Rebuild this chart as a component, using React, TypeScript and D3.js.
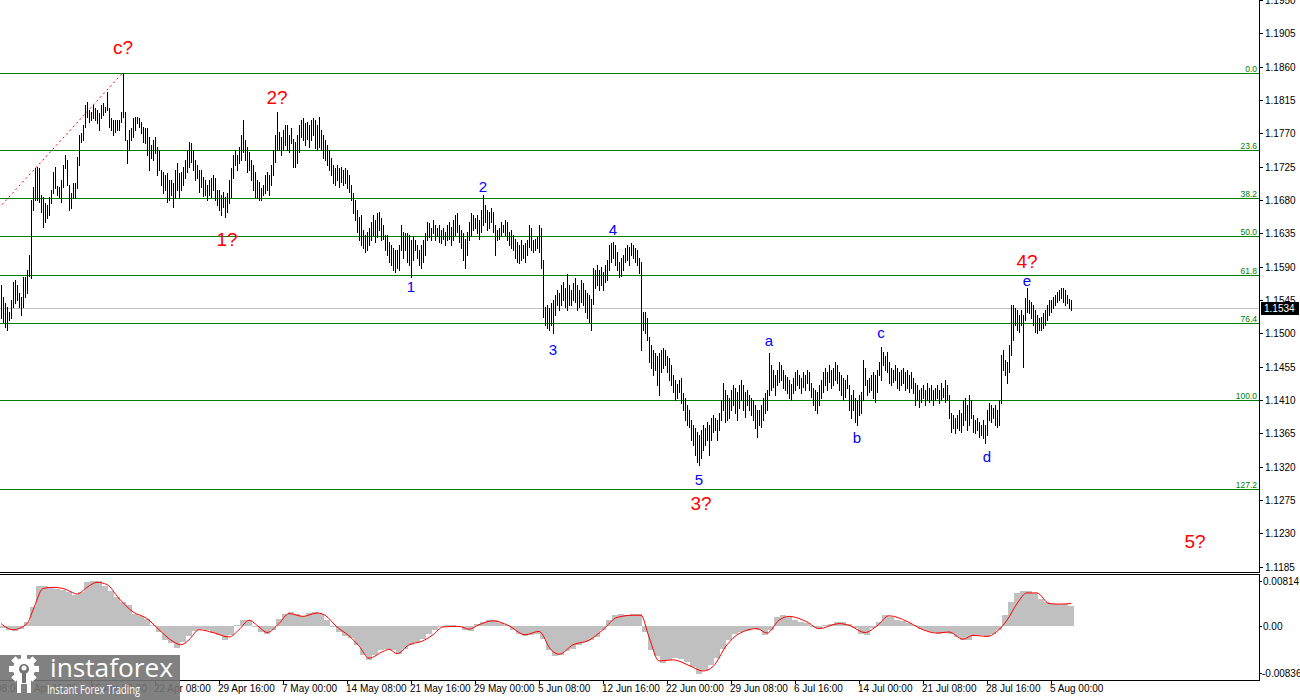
import React from "react";
import * as d3 from "d3";

// ---- price bars (H4), high / low per bar ----
const highs = [
  1.1565,1.1549,1.1541,1.1536,1.1529,1.1545,1.1569,1.1572,1.1565,1.1554,1.1549,1.1576,1.1576,1.1585,1.1606,
  1.1680,1.1697,1.1723,1.1725,1.1723,1.1687,1.1684,1.1676,1.1673,1.1684,1.1693,1.1718,1.1725,1.1699,1.1697,
  1.1707,1.1727,1.1741,1.1734,1.1700,1.1689,1.1703,1.1703,1.1738,1.1768,1.1770,1.1781,1.1808,1.1812,1.1801,
  1.1799,1.1808,1.1804,1.1801,1.1797,1.1808,1.1811,1.1805,1.1826,1.1804,1.1791,1.1788,1.1788,1.1788,1.1788,
  1.1799,1.1852,1.1799,1.1761,1.1774,1.1777,1.1791,1.1792,1.1792,1.1791,1.1785,1.1778,1.1777,1.1777,1.1765,
  1.1754,1.1761,1.1765,1.1751,1.1747,1.1720,1.1718,1.1714,1.1716,1.1707,1.1707,1.1703,1.1720,1.1730,1.1716,
  1.1718,1.1725,1.1734,1.1747,1.1758,1.1757,1.1747,1.1734,1.1727,1.1720,1.1720,1.1711,1.1707,1.1700,1.1707,
  1.1710,1.1714,1.1710,1.1693,1.1693,1.1687,1.1691,1.1684,1.1689,1.1707,1.1723,1.1741,1.1747,1.1741,1.1751,
  1.1768,1.1788,1.1761,1.1751,1.1745,1.1734,1.1727,1.1718,1.1707,1.1704,1.1696,1.1700,1.1714,1.1718,1.1714,
  1.1727,1.1747,1.1768,1.1799,1.1772,1.1765,1.1774,1.1781,1.1781,1.1768,1.1777,1.1763,1.1758,1.1768,1.1781,
  1.1788,1.1791,1.1784,1.1785,1.1781,1.1788,1.1791,1.1788,1.1781,1.1792,1.1774,1.1768,1.1761,1.1754,1.1747,
  1.1737,1.1727,1.1723,1.1727,1.1723,1.1725,1.1720,1.1723,1.1720,1.1714,1.1700,1.1689,1.1680,1.1666,1.1657,
  1.1660,1.1639,1.1633,1.1637,1.1642,1.1650,1.1660,1.1653,1.1662,1.1664,1.1656,1.1646,1.1633,1.1633,1.1623,
  1.1619,1.1615,1.1612,1.1612,1.1619,1.1646,1.1637,1.1635,1.1635,1.1633,1.1626,1.1630,1.1626,1.1619,1.1612,
  1.1619,1.1626,1.1635,1.1650,1.1649,1.1642,1.1653,1.1646,1.1642,1.1646,1.1639,1.1642,1.1637,1.1646,1.1650,
  1.1644,1.1653,1.1660,1.1662,1.1646,1.1639,1.1635,1.1628,1.1637,1.1650,1.1662,1.1660,1.1656,1.1660,1.1653,
  1.1666,1.1687,1.1673,1.1666,1.1664,1.1669,1.1664,1.1646,1.1639,1.1642,1.1650,1.1646,1.1653,1.1650,1.1637,
  1.1639,1.1633,1.1628,1.1623,1.1619,1.1626,1.1619,1.1622,1.1626,1.1646,1.1642,1.1626,1.1628,1.1630,1.1646,
  1.1642,1.1599,1.1536,1.1538,1.1534,1.1541,1.1545,1.1552,1.1558,1.1554,1.1565,1.1569,1.1561,1.1580,1.1565,
  1.1558,1.1568,1.1575,1.1565,1.1558,1.1572,1.1568,1.1558,1.1554,1.1552,1.1547,1.1588,1.1585,1.1592,1.1585,
  1.1590,1.1583,1.1592,1.1599,1.1619,1.1622,1.1623,1.1619,1.1610,1.1596,1.1602,1.1606,1.1615,1.1619,1.1617,
  1.1622,1.1619,1.1615,1.1612,1.1602,1.1596,1.1529,1.1529,1.1521,1.1495,1.1484,1.1477,1.1474,1.1470,1.1474,
  1.1477,1.1480,1.1477,1.1470,1.1467,1.1457,1.1444,1.1437,1.1432,1.1437,1.1440,1.1419,1.1413,1.1403,1.1396,
  1.1383,1.1376,1.1372,1.1367,1.1363,1.1369,1.1376,1.1372,1.1380,1.1376,1.1386,1.1390,1.1386,1.1383,1.1393,
  1.1410,1.1433,1.1423,1.1417,1.1413,1.1423,1.1430,1.1426,1.1421,1.1430,1.1437,1.1430,1.1421,1.1423,1.1417,
  1.1413,1.1410,1.1403,1.1396,1.1396,1.1403,1.1413,1.1419,1.1423,1.1473,1.1457,1.1450,1.1444,1.1450,1.1461,
  1.1457,1.1450,1.1444,1.1441,1.1437,1.1432,1.1440,1.1448,1.1450,1.1444,1.1440,1.1448,1.1444,1.1450,1.1448,
  1.1433,1.1426,1.1423,1.1421,1.1430,1.1437,1.1448,1.1453,1.1448,1.1457,1.1450,1.1453,1.1461,1.1457,1.1448,
  1.1444,1.1440,1.1437,1.1444,1.1430,1.1417,1.1423,1.1413,1.1410,1.1417,1.1421,1.1464,1.1453,1.1437,1.1440,
  1.1444,1.1448,1.1444,1.1450,1.1461,1.1482,1.1475,1.1470,1.1475,1.1461,1.1453,1.1450,1.1457,1.1453,1.1448,
  1.1450,1.1453,1.1448,1.1450,1.1444,1.1448,1.1440,1.1433,1.1430,1.1423,1.1426,1.1430,1.1423,1.1433,1.1426,
  1.1430,1.1423,1.1426,1.1430,1.1423,1.1433,1.1426,1.1437,1.1430,1.1417,1.1392,1.1390,1.1386,1.1390,1.1396,
  1.1392,1.1410,1.1413,1.1403,1.1417,1.1410,1.1390,1.1383,1.1386,1.1380,1.1376,1.1383,1.1376,1.1396,1.1406,
  1.1403,1.1399,1.1403,1.1396,1.1410,1.1471,1.1477,1.1464,1.1461,1.1484,1.1538,1.1538,1.1534,1.1531,1.1525,
  1.1531,1.1525,1.1548,1.1561,1.1545,1.1542,1.1538,1.1531,1.1525,1.1521,1.1522,1.1527,1.1531,1.1538,1.1545,
  1.1545,1.1549,1.1552,1.1556,1.1558,1.1561,1.1561,1.1558,1.1552,1.1547,1.1545,
];

const lows = [
  1.1521,1.1515,1.1508,1.1504,1.1518,1.1521,1.1536,1.1541,1.1545,1.1536,1.1525,1.1536,1.1549,1.1554,1.1578,
  1.1575,1.1666,1.1680,1.1680,1.1677,1.1664,1.1643,1.1650,1.1656,1.1660,1.1676,1.1689,1.1696,1.1687,1.1684,
  1.1677,1.1697,1.1723,1.1700,1.1666,1.1669,1.1683,1.1683,1.1696,1.1727,1.1758,1.1761,1.1778,1.1792,1.1785,
  1.1788,1.1791,1.1788,1.1784,1.1774,1.1791,1.1795,1.1799,1.1801,1.1778,1.1774,1.1768,1.1772,1.1774,1.1774,
  1.1785,1.1792,1.1761,1.1730,1.1747,1.1761,1.1765,1.1774,1.1784,1.1778,1.1770,1.1758,1.1757,1.1741,1.1720,
  1.1737,1.1734,1.1743,1.1714,1.1720,1.1700,1.1689,1.1693,1.1677,1.1680,1.1687,1.1670,1.1683,1.1693,1.1683,
  1.1693,1.1700,1.1710,1.1718,1.1725,1.1731,1.1720,1.1707,1.1710,1.1691,1.1697,1.1685,1.1687,1.1680,1.1687,
  1.1684,1.1693,1.1680,1.1673,1.1666,1.1660,1.1670,1.1657,1.1664,1.1676,1.1684,1.1710,1.1727,1.1720,1.1730,
  1.1734,1.1745,1.1734,1.1718,1.1720,1.1707,1.1693,1.1684,1.1683,1.1680,1.1680,1.1687,1.1689,1.1693,1.1687,
  1.1700,1.1714,1.1731,1.1747,1.1747,1.1741,1.1747,1.1754,1.1747,1.1745,1.1757,1.1725,1.1725,1.1730,1.1745,
  1.1765,1.1761,1.1754,1.1763,1.1751,1.1761,1.1768,1.1750,1.1747,1.1751,1.1747,1.1737,1.1734,1.1727,1.1720,
  1.1714,1.1703,1.1700,1.1707,1.1697,1.1704,1.1700,1.1703,1.1696,1.1691,1.1680,1.1662,1.1653,1.1637,1.1626,
  1.1619,1.1615,1.1610,1.1612,1.1619,1.1626,1.1633,1.1623,1.1630,1.1639,1.1626,1.1628,1.1612,1.1606,1.1596,
  1.1592,1.1585,1.1583,1.1588,1.1585,1.1612,1.1602,1.1612,1.1596,1.1592,1.1576,1.1599,1.1612,1.1602,1.1592,
  1.1588,1.1596,1.1606,1.1626,1.1630,1.1626,1.1635,1.1626,1.1631,1.1623,1.1622,1.1628,1.1619,1.1626,1.1628,
  1.1619,1.1626,1.1633,1.1637,1.1623,1.1615,1.1599,1.1588,1.1606,1.1626,1.1633,1.1639,1.1642,1.1635,1.1628,
  1.1637,1.1646,1.1650,1.1639,1.1642,1.1650,1.1637,1.1606,1.1626,1.1628,1.1633,1.1637,1.1633,1.1626,1.1619,
  1.1615,1.1612,1.1602,1.1596,1.1595,1.1599,1.1602,1.1596,1.1606,1.1616,1.1612,1.1610,1.1612,1.1615,1.1610,
  1.1588,1.1522,1.1511,1.1507,1.1504,1.1511,1.1500,1.1525,1.1538,1.1531,1.1538,1.1545,1.1536,1.1531,1.1538,
  1.1538,1.1545,1.1542,1.1531,1.1536,1.1542,1.1538,1.1529,1.1521,1.1515,1.1504,1.1540,1.1561,1.1565,1.1558,
  1.1565,1.1558,1.1569,1.1572,1.1585,1.1596,1.1602,1.1592,1.1585,1.1576,1.1578,1.1585,1.1596,1.1599,1.1592,
  1.1606,1.1602,1.1596,1.1592,1.1581,1.1477,1.1504,1.1500,1.1491,1.1461,1.1453,1.1444,1.1450,1.1430,1.1417,
  1.1448,1.1453,1.1457,1.1448,1.1437,1.1430,1.1421,1.1410,1.1413,1.1421,1.1406,1.1396,1.1383,1.1376,1.1373,
  1.1356,1.1349,1.1336,1.1326,1.1322,1.1332,1.1342,1.1349,1.1356,1.1336,1.1356,1.1367,1.1369,1.1356,1.1369,
  1.1383,1.1396,1.1380,1.1383,1.1386,1.1396,1.1403,1.1393,1.1383,1.1399,1.1410,1.1396,1.1387,1.1403,1.1396,
  1.1390,1.1383,1.1372,1.1360,1.1376,1.1373,1.1383,1.1392,1.1396,1.1417,1.1423,1.1428,1.1417,1.1430,1.1434,
  1.1437,1.1426,1.1423,1.1419,1.1413,1.1410,1.1419,1.1423,1.1430,1.1426,1.1419,1.1428,1.1423,1.1433,1.1423,
  1.1414,1.1403,1.1396,1.1392,1.1403,1.1413,1.1421,1.1430,1.1423,1.1434,1.1426,1.1430,1.1437,1.1433,1.1423,
  1.1417,1.1410,1.1414,1.1426,1.1396,1.1386,1.1396,1.1380,1.1376,1.1390,1.1392,1.1410,1.1430,1.1417,1.1421,
  1.1423,1.1413,1.1407,1.1421,1.1444,1.1437,1.1457,1.1450,1.1448,1.1433,1.1430,1.1434,1.1437,1.1426,1.1423,
  1.1430,1.1433,1.1423,1.1426,1.1421,1.1426,1.1419,1.1403,1.1410,1.1401,1.1407,1.1413,1.1403,1.1410,1.1407,
  1.1410,1.1403,1.1410,1.1413,1.1406,1.1410,1.1414,1.1407,1.1410,1.1386,1.1367,1.1372,1.1365,1.1372,1.1369,
  1.1367,1.1376,1.1383,1.1369,1.1376,1.1386,1.1367,1.1365,1.1369,1.1360,1.1363,1.1359,1.1352,1.1363,1.1383,
  1.1380,1.1386,1.1376,1.1373,1.1376,1.1406,1.1450,1.1444,1.1433,1.1448,1.1471,1.1491,1.1511,1.1504,1.1502,
  1.1511,1.1455,1.1518,1.1529,1.1527,1.1521,1.1511,1.1502,1.1500,1.1504,1.1504,1.1507,1.1511,1.1518,1.1525,
  1.1529,1.1534,1.1538,1.1542,1.1545,1.1548,1.1542,1.1538,1.1541,1.1534,1.1531,
];

const lastPrice = 1.1534;

// price axis ticks
const priceTicks = [
  1.1185, 1.123, 1.1275, 1.132, 1.1365, 1.141, 1.1455, 1.15, 1.1545,
  1.159, 1.1635, 1.168, 1.1725, 1.177, 1.1815, 1.186, 1.1905, 1.195,
];

// time axis (bar index of each label)
const timeLabels = [
  "31 Mar 08:00", "7 Apr 16:00", "15 Apr 00:00", "22 Apr 08:00", "29 Apr 16:00",
  "7 May 00:00", "14 May 08:00", "21 May 16:00", "29 May 00:00", "5 Jun 08:00",
  "12 Jun 16:00", "22 Jun 00:00", "29 Jun 08:00", "6 Jul 16:00", "14 Jul 00:00",
  "21 Jul 08:00", "28 Jul 16:00", "5 Aug 00:00",
];
const timeIdx = [-19, 13, 45, 77, 109, 141, 173, 205, 237, 269, 301, 333, 365, 397, 429, 461, 493, 525];

// Fibonacci retracement
const fibLevels = [0, 23.6, 38.2, 50, 61.8, 76.4, 100, 127.2];
const fibNames = ["0.0", "23.6", "38.2", "50.0", "61.8", "76.4", "100.0", "127.2"];
const fibAnchorIdx = [-89, 61];
const fibAnchorPrice = [1.141, 1.1852];

// MACD histogram, one value every 3 bars
const macdHist = [
  -0.0003,-0.0006,-0.0008,-0.0004,0.0008,0.0035,0.0072,0.0073,0.0070,0.0067,
  0.0065,0.0061,0.0056,0.0061,0.0079,0.0082,0.0081,0.0073,0.0064,0.0053,
  0.0044,0.0038,0.0023,0.0018,0.0014,0.0002,-0.0010,-0.0024,-0.0030,-0.0038,
  -0.0028,-0.0017,-0.0008,-0.0004,-0.0007,-0.0011,-0.0015,-0.0024,-0.0015,0.0002,
  0.0012,0.0011,-0.0001,-0.0010,-0.0014,-0.0007,0.0014,0.0023,0.0026,0.0023,
  0.0018,0.0024,0.0026,0.0023,0.0011,-0.0001,-0.0010,-0.0017,-0.0020,-0.0033,
  -0.0051,-0.0060,-0.0051,-0.0042,-0.0041,-0.0043,-0.0049,-0.0040,-0.0033,-0.0028,
  -0.0022,-0.0014,-0.0007,-0.0001,0.0002,0.0002,0.0000,-0.0006,-0.0008,0.0005,
  0.0008,0.0011,0.0011,0.0006,0.0002,-0.0006,-0.0014,-0.0017,-0.0016,-0.0013,
  -0.0022,-0.0042,-0.0054,-0.0051,-0.0045,-0.0041,-0.0034,-0.0028,-0.0025,-0.0019,
  -0.0006,0.0011,0.0020,0.0022,0.0020,0.0022,0.0023,-0.0010,-0.0042,-0.0054,
  -0.0065,-0.0060,-0.0057,-0.0059,-0.0063,-0.0073,-0.0085,-0.0079,-0.0069,-0.0056,
  -0.0040,-0.0024,-0.0014,-0.0010,-0.0008,-0.0004,-0.0006,-0.0015,-0.0006,0.0016,
  0.0020,0.0017,0.0011,0.0008,0.0006,-0.0001,-0.0004,0.0002,0.0005,0.0008,
  0.0008,0.0004,-0.0002,-0.0013,-0.0016,-0.0002,0.0008,0.0020,0.0017,0.0012,
  0.0010,0.0006,0.0002,-0.0004,-0.0008,-0.0010,-0.0013,-0.0012,-0.0014,-0.0019,
  -0.0024,-0.0025,-0.0018,-0.0016,-0.0019,-0.0013,-0.0006,0.0020,0.0044,0.0059,
  0.0064,0.0064,0.0059,0.0050,0.0044,0.0041,0.0040,0.0040,0.0037,
];

// MACD signal line (bar index, value)
const signalIdx = [
  0,6,13,16,21,26,31,35,38,43,48,53,59,66,73,79,86,90,94,99,106,114,119,124,129,133,
  139,144,151,158,162,168,174,179,184,191,194,198,204,211,216,221,229,234,239,246,254,
  262,269,275,279,286,294,301,308,316,320,324,329,336,344,351,356,363,369,378,383,389,
  394,403,409,419,424,432,438,444,453,461,468,474,481,486,493,498,503,508,513,518,524,529,535,
];
const signalVal = [
  0.0005,-0.0006,0.0005,0.0029,0.0068,0.0070,0.0068,0.0062,0.0058,0.0070,0.0079,0.0075,
  0.0050,0.0026,0.0014,-0.0006,-0.0027,-0.0033,-0.0024,-0.0006,-0.0011,-0.0019,-0.0006,
  0.0011,-0.0001,-0.0011,0.0005,0.0023,0.0018,0.0024,0.0020,-0.0001,-0.0017,-0.0035,
  -0.0057,-0.0045,-0.0041,-0.0049,-0.0033,-0.0026,-0.0015,-0.0001,0.0000,-0.0005,0.0003,
  0.0010,0.0001,-0.0015,-0.0009,-0.0042,-0.0050,-0.0033,-0.0025,-0.0006,0.0016,0.0020,
  0.0020,-0.0019,-0.0062,-0.0060,-0.0070,-0.0080,-0.0072,-0.0033,-0.0013,-0.0004,-0.0012,
  0.0011,0.0018,0.0008,-0.0004,0.0005,0.0002,-0.0011,0.0001,0.0019,0.0009,-0.0006,
  -0.0012,-0.0010,-0.0023,-0.0016,-0.0018,-0.0009,0.0011,0.0041,0.0060,0.0060,0.0041,0.0040,0.0041,
];
const macdTicks = [0.00814, 0, -0.00836];
const macdTickLabels = ["0.00814", "0.00", "-0.00836"];

// wave labels
const redText = ["c?", "2?", "1?", "3?", "4?", "5?"];
const redIdx = [61, 138, 113, 350, 513, 597];
const redPrice = [1.1887, 1.1819, 1.1627, 1.1271, 1.1598, 1.122];
const blueText = ["1", "2", "3", "4", "5", "a", "b", "c", "d", "e"];
const blueIdx = [205, 241, 276, 306, 349, 384, 428, 440, 493, 513];
const bluePrice = [1.1563, 1.1698, 1.1478, 1.164, 1.1303, 1.1488, 1.1359, 1.1499, 1.1333, 1.1569];

const FONT = "'Liberation Sans', Arial, sans-serif";

export default function App() {
  const W = 1300;
  const H = 700;
  const RIGHT = 1259;
  const MAIN_BOTTOM = 572;
  const SUB_TOP = 574;
  const SUB_BOTTOM = 680;

  const n = highs.length;
  const x = d3.scaleLinear().domain([0, 535]).range([1, 1071]);
  const y = d3.scaleLinear().domain([1.1185, 1.195]).range([566.7, 0]);
  const ym = d3.scaleLinear().domain([-0.00836, 0.00814]).range([673, 581]);
  const step = x(1) - x(0);

  const fibHigh = fibAnchorPrice[1];
  const fibLow = fibAnchorPrice[0];
  const fibPrices = fibLevels.map((l) => fibHigh - (l / 100) * (fibHigh - fibLow));

  const signalPath =
    d3
      .line<number>()
      .x((_, i) => x(signalIdx[i]))
      .y((d) => ym(d))
      .curve(d3.curveMonotoneX)(signalVal) || "";

  const barsPath = d3.range(n).map((i) => {
    const bx = Math.round(x(i)) + 0.5;
    return `M${bx},${Math.round(y(highs[i]))}V${Math.round(y(lows[i])) + 1}`;
  }).join("");

  const lowerCase = (t: string) => ["a", "c", "e"].includes(t);

  // gear teeth
  const gearCx = 24;
  const gearCy = 669;
  const teeth = d3.range(8).map((k) => (k * 360) / 8);

  return (
    <svg
      width={W}
      height={H}
      style={{ position: "absolute", left: 0, top: 0, display: "block", background: "#fff" }}
      fontFamily={FONT}
    >
      <defs>
        <clipPath id="mainClip">
          <rect x={0} y={0} width={RIGHT} height={MAIN_BOTTOM} />
        </clipPath>
        <clipPath id="subClip">
          <rect x={0} y={SUB_TOP} width={RIGHT} height={SUB_BOTTOM - SUB_TOP} />
        </clipPath>
      </defs>
      <rect x={0} y={0} width={W} height={H} fill="#ffffff" />

      {/* main panel */}
      <g clipPath="url(#mainClip)">
        {/* fib levels */}
        {fibPrices.map((p, i) => (
          <line
            key={"fib" + i}
            x1={0}
            x2={RIGHT}
            y1={Math.round(y(p)) + 0.5}
            y2={Math.round(y(p)) + 0.5}
            stroke="#008000"
            strokeWidth={1}
            shapeRendering="crispEdges"
          />
        ))}
        {fibPrices.map((p, i) => (
          <text
            key={"fibt" + i}
            x={RIGHT - 2}
            y={Math.round(y(p)) - 1.5}
            fontSize={8.5}
            fill="#008000"
            textAnchor="end"
          >
            {fibNames[i]}
          </text>
        ))}
        {/* current price line */}
        <line
          x1={0}
          x2={RIGHT}
          y1={Math.round(y(lastPrice)) + 0.5}
          y2={Math.round(y(lastPrice)) + 0.5}
          stroke="#c0c0c0"
          strokeWidth={1}
          shapeRendering="crispEdges"
        />
        {/* fib trend line */}
        <line
          x1={x(fibAnchorIdx[0])}
          y1={y(fibAnchorPrice[0])}
          x2={x(fibAnchorIdx[1])}
          y2={y(fibAnchorPrice[1])}
          stroke="#ff0000"
          strokeWidth={1}
          strokeDasharray="2,3"
        />
        {/* bars */}
        <path d={barsPath} stroke="#000" strokeWidth={1} fill="none" shapeRendering="crispEdges" />

        {/* wave labels */}
        {redText.map((t, i) => (
          <text
            key={"r" + i}
            x={x(redIdx[i])}
            y={y(redPrice[i])}
            dy="0.36em"
            textAnchor="middle"
            fontSize={19}
            fill="#ff0000"
            fontFamily="'Liberation Sans', Arial, sans-serif"
          >
            {t}
          </text>
        ))}
        {blueText.map((t, i) => (
          <text
            key={"b" + i}
            x={x(blueIdx[i])}
            y={y(bluePrice[i])}
            dy={lowerCase(t) ? "0.27em" : "0.36em"}
            textAnchor="middle"
            fontSize={15}
            fill="#0000ff"
          >
            {t}
          </text>
        ))}
      </g>

      {/* MACD panel */}
      <g clipPath="url(#subClip)">
        {macdHist.map((v, k) => {
          const x0 = x(k * 3) - 1;
          const y0 = ym(0);
          const y1 = ym(v);
          return (
            <rect
              key={"h" + k}
              x={x0}
              y={Math.min(y0, y1)}
              width={step * 3}
              height={Math.abs(y1 - y0)}
              fill="#c0c0c0"
              shapeRendering="crispEdges"
            />
          );
        })}
        <path d={signalPath} fill="none" stroke="#ff0000" strokeWidth={1} />
      </g>

      {/* frames */}
      <g stroke="#000" strokeWidth={1} shapeRendering="crispEdges" fill="none">
        <line x1={0} x2={RIGHT} y1={MAIN_BOTTOM + 0.5} y2={MAIN_BOTTOM + 0.5} />
        <line x1={RIGHT + 0.5} x2={RIGHT + 0.5} y1={0} y2={MAIN_BOTTOM + 1} />
        <line x1={0} x2={RIGHT + 1} y1={SUB_TOP + 0.5} y2={SUB_TOP + 0.5} />
        <line x1={RIGHT + 0.5} x2={RIGHT + 0.5} y1={SUB_TOP} y2={SUB_BOTTOM + 1} />
        <line x1={0} x2={RIGHT + 1} y1={SUB_BOTTOM + 0.5} y2={SUB_BOTTOM + 0.5} />
      </g>

      {/* price axis */}
      {priceTicks.map((p) => {
        const py = Math.round(y(p)) + 0.5;
        return (
          <g key={"pt" + p}>
            <line x1={RIGHT} x2={RIGHT + 4} y1={py} y2={py} stroke="#000" shapeRendering="crispEdges" />
            <text x={RIGHT + 6} y={py} dy="0.35em" fontSize={10} fill="#000">
              {p.toFixed(4)}
            </text>
          </g>
        );
      })}
      {/* current price tag */}
      <rect x={RIGHT + 2} y={Math.round(y(lastPrice)) - 6} width={38} height={13} fill="#000" />
      <text
        x={RIGHT + 5}
        y={Math.round(y(lastPrice)) + 0.5}
        dy="0.36em"
        fontSize={10}
        fill="#fff"
      >
        {lastPrice.toFixed(4)}
      </text>

      {/* MACD axis */}
      {macdTicks.map((v, i) => {
        const py = Math.round(ym(v)) + 0.5;
        return (
          <g key={"mt" + i}>
            <line x1={RIGHT} x2={RIGHT + 3} y1={py} y2={py} stroke="#000" shapeRendering="crispEdges" />
            <text x={v < 0 ? RIGHT + 3 : RIGHT + 4} y={py} dy="0.35em" fontSize={10} fill="#000">
              {macdTickLabels[i]}
            </text>
          </g>
        );
      })}

      {/* time axis */}
      {timeLabels.map((t, i) => {
        const tx = Math.round(x(timeIdx[i]));
        return (
          <g key={"tl" + i}>
            <line x1={tx + 0.5} x2={tx + 0.5} y1={SUB_BOTTOM} y2={SUB_BOTTOM + 4} stroke="#000" shapeRendering="crispEdges" />
            <text x={tx - 1} y={692} fontSize={10} fill="#000">
              {t}
            </text>
          </g>
        );
      })}

      {/* instaforex logo */}
      <g>
        <rect x={0} y={655} width={180} height={45} fill="#737373" opacity={0.9} />
        {teeth.map((a) => (
          <rect
            key={"tooth" + a}
            x={gearCx - 3}
            y={gearCy - 15}
            width={6}
            height={6}
            fill="#fff"
            transform={`rotate(${a} ${gearCx} ${gearCy})`}
          />
        ))}
        <circle cx={gearCx} cy={gearCy} r={11} fill="#fff" />
        <circle cx={gearCx} cy={gearCy} r={5} fill="#737373" />
        <circle cx={gearCx} cy={gearCy - 1} r={2.5} fill="#fff" />
        <rect x={gearCx - 7} y={gearCy + 4} width={4} height={20} fill="#fff" />
        <rect x={gearCx + 3} y={gearCy + 4} width={4} height={20} fill="#fff" />
        <rect x={gearCx - 2} y={gearCy + 2} width={4} height={12} fill="#737373" />
        <text
          x={50}
          y={677}
          fontSize={26}
          fill="#fff"
          fontFamily="'Open Sans', Arial, sans-serif"
          textLength={123}
          lengthAdjust="spacingAndGlyphs"
        >
          instaforex
        </text>
        <text
          x={47}
          y={694}
          fontSize={12}
          fill="#fff"
          fontFamily="'Open Sans', Arial, sans-serif"
          textLength={93}
          lengthAdjust="spacingAndGlyphs"
        >
          Instant Forex Trading
        </text>
      </g>
    </svg>
  );
}
